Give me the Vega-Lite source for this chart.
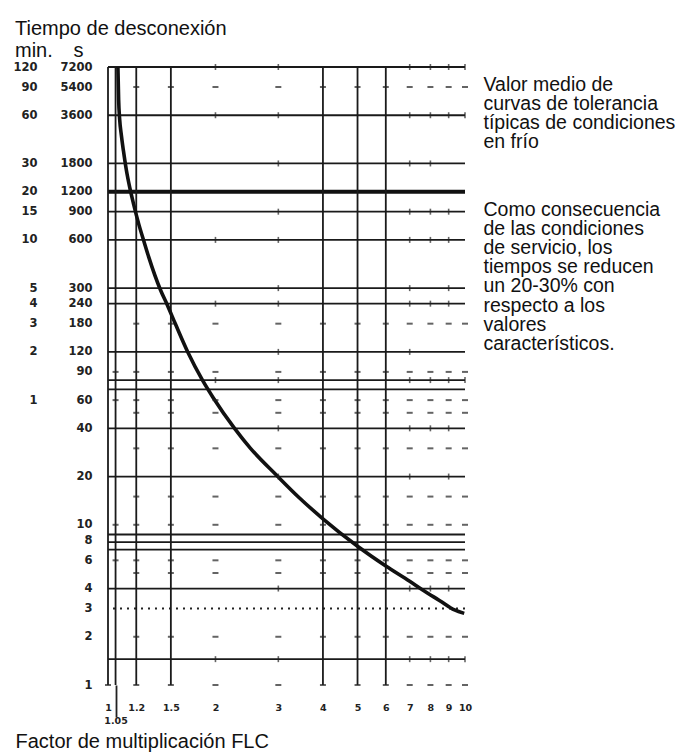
{
  "$schema": "https://vega.github.io/schema/vega-lite/v6.json",
  "width": 357,
  "height": 618,
  "autosize": {"type": "none"},
  "padding": {"left": 108, "top": 67, "right": 216, "bottom": 71},
  "background": "white",
  "config": {
    "view": {"stroke": null},
    "font": "Liberation Sans",
    "axis": {"labelFont": "DejaVu Sans", "labelFontWeight": "bold", "labelColor": "#222", "grid": false, "domain": false, "ticks": false, "tickSize": 0, "labelOverlap": false, "labelFlush": false, "labelBound": false}
  },
  "title": {
    "text": ["Tiempo de desconexión", "min.\u00a0\u00a0\u00a0\u2009s"],
    "anchor": "start",
    "frame": "group",
    "dx": -93,
    "dy": 27,
    "fontSize": 20,
    "fontWeight": "normal",
    "font": "Liberation Sans",
    "color": "#111",
    "lineHeight": 22,
    "baseline": "alphabetic",
    "offset": 10
  },
  "datasets": {
    "hlines": [
      {"y": 7200}, {"y": 3600}, {"y": 1800}, {"y": 900}, {"y": 600}, {"y": 300}, {"y": 240}, {"y": 120},
      {"y": 80}, {"y": 70}, {"y": 40}, {"y": 20}, {"y": 8.7}, {"y": 7.8}, {"y": 7}, {"y": 4}, {"y": 1.45}
    ],
    "hthick": [{"y": 1200}],
    "hdotted": [{"y": 3}],
    "vlines": [{"x": 1}, {"x": 1.05}, {"x": 1.2}, {"x": 1.5}, {"x": 4}, {"x": 5}, {"x": 6}],
    "curve": [
      {"x": 1.066, "y": 7200}, {"x": 1.071, "y": 4500}, {"x": 1.078, "y": 3400}, {"x": 1.090, "y": 2700},
      {"x": 1.105, "y": 2150}, {"x": 1.125, "y": 1650}, {"x": 1.150, "y": 1280}, {"x": 1.180, "y": 1000},
      {"x": 1.220, "y": 750}, {"x": 1.260, "y": 590}, {"x": 1.300, "y": 470}, {"x": 1.403, "y": 292},
      {"x": 1.468, "y": 234}, {"x": 1.545, "y": 179}, {"x": 1.675, "y": 119}, {"x": 1.839, "y": 80},
      {"x": 1.975, "y": 61.7}, {"x": 2.262, "y": 40}, {"x": 2.507, "y": 30}, {"x": 2.984, "y": 20.1},
      {"x": 3.439, "y": 14.7}, {"x": 4.0, "y": 10.9}, {"x": 5.0, "y": 7.35}, {"x": 6.0, "y": 5.53},
      {"x": 7.0, "y": 4.44}, {"x": 7.652, "y": 3.89}, {"x": 8.5, "y": 3.36}, {"x": 9.346, "y": 2.94},
      {"x": 9.95, "y": 2.8}
    ],
    "hticks": [
      {"y": 5400, "xs": [1.2, 1.5, 2, 3, 4, 5, 6, 7, 8, 9, 10]},
      {"y": 180, "xs": [1.2, 1.5, 2, 3, 4, 5, 6, 7, 8, 9, 10]},
      {"y": 90, "xs": [1.05, 1.2, 1.5, 2, 3, 4, 5, 6, 7, 8, 9, 10]},
      {"y": 60, "xs": [1.05, 1.2, 1.5, 2, 3, 4, 5, 6, 7, 8, 9, 10]},
      {"y": 50, "xs": [1.2, 1.5, 2, 3, 4, 5, 6, 7, 8, 9, 10]},
      {"y": 30, "xs": [1.2, 1.5, 2, 3, 4, 5, 6, 7, 8, 9, 10]},
      {"y": 15, "xs": [1.2, 1.5, 2, 3, 4, 5, 6, 7, 8, 9, 10]},
      {"y": 10, "xs": [1.05, 1.2, 1.5, 2, 3, 4, 5, 6, 7, 8, 9, 10]},
      {"y": 6, "xs": [1.05, 1.2, 1.5, 2, 3, 4, 5, 6, 7, 8, 9, 10]},
      {"y": 5, "xs": [1.2, 1.5, 2, 3, 4, 5, 6, 7, 8, 9, 10]},
      {"y": 2, "xs": [1.2, 1.5, 2, 3, 4, 5, 6, 7, 8, 9, 10]},
      {"y": 1, "xs": [1, 1.2, 1.5, 2, 3, 4, 5, 6, 7, 8, 9, 10]}
    ],
    "vticks": [
      {"y": 7200, "xs": [2, 3, 7, 8, 9, 10]},
      {"y": 3600, "xs": [2, 3, 7, 8, 9, 10]},
      {"y": 1800, "xs": [3, 7, 8]},
      {"y": 900, "xs": [3, 7, 8, 9]},
      {"y": 600, "xs": [2, 3, 7, 8, 9]},
      {"y": 300, "xs": [3, 7, 9]},
      {"y": 240, "xs": [2, 3, 7, 8, 9]},
      {"y": 120, "xs": [3, 7]},
      {"y": 80, "xs": [2, 3, 7, 8, 9, 10]},
      {"y": 40, "xs": [3, 7, 8, 9]},
      {"y": 20, "xs": [3, 7, 9]},
      {"y": 4, "xs": [3, 7, 8, 9]},
      {"y": 1.45, "xs": [2, 3, 7, 8, 9, 10]}
    ]
  },
  "layer": [
    {
      "data": {"name": "hlines"},
      "mark": {"type": "rule", "stroke": "#1a1a1a", "strokeWidth": 1.8},
      "encoding": {
        "y": {
          "field": "y", "type": "quantitative",
          "scale": {"type": "log", "domain": [1, 7200], "nice": false, "zero": false},
          "axis": {
            "orient": "left",
            "values": [7200, 5400, 3600, 1800, 1200, 900, 600, 300, 240, 180, 120, 90, 60, 40, 20, 10, 8, 6, 4, 3, 2, 1],
            "format": "d", "labelFontSize": 11.5, "labelPadding": 16, "labelAlign": "right", "labelBaseline": "middle", "title": null
          }
        }
      }
    },
    {
      "data": {"name": "hthick"},
      "mark": {"type": "rule", "stroke": "#111", "strokeWidth": 4},
      "encoding": {
        "y": {
          "field": "y", "type": "quantitative",
          "scale": {"type": "log", "domain": [1, 7200], "nice": false, "zero": false},
          "axis": {
            "orient": "left",
            "values": [7200, 5400, 3600, 1800, 1200, 900, 600, 300, 240, 180, 120, 60],
            "labelExpr": "datum.value / 60", "labelFontSize": 11.5, "labelPadding": 71, "labelAlign": "right", "labelBaseline": "middle", "title": null
          }
        }
      }
    },
    {
      "data": {"name": "hdotted"},
      "mark": {"type": "rule", "stroke": "#222", "strokeWidth": 2, "strokeDash": [2, 5]},
      "encoding": {
        "y": {"field": "y", "type": "quantitative", "scale": {"type": "log", "domain": [1, 7200], "nice": false, "zero": false}, "axis": null}
      }
    },
    {
      "data": {"name": "vlines"},
      "mark": {"type": "rule", "stroke": "#1a1a1a", "strokeWidth": 1.8},
      "encoding": {
        "x": {
          "field": "x", "type": "quantitative",
          "scale": {"type": "log", "domain": [1, 10], "nice": false, "zero": false},
          "axis": {
            "orient": "bottom",
            "values": [1, 1.2, 1.5, 2, 3, 4, 5, 6, 7, 8, 9, 10],
            "format": "~g", "labelFontSize": 9.5, "labelPadding": 17, "labelBaseline": "top",
            "title": "Factor de multiplicación FLC",
            "titleFont": "Liberation Sans", "titleFontSize": 20, "titleFontWeight": "normal", "titleColor": "#111",
            "titleAnchor": "start", "titleAlign": "left", "titleBaseline": "alphabetic", "titleX": -93, "titleY": 62
          }
        }
      }
    },
    {
      "data": {"name": "curve"},
      "mark": {"type": "line", "stroke": "#111", "strokeWidth": 3.6, "interpolate": "monotone"},
      "encoding": {
        "x": {"field": "x", "type": "quantitative", "scale": {"type": "log", "domain": [1, 10], "nice": false, "zero": false}, "axis": null},
        "y": {
          "field": "y", "type": "quantitative",
          "scale": {"type": "log", "domain": [1, 7200], "nice": false, "zero": false},
          "axis": {
            "orient": "right", "labels": false,
            "title": ["Valor medio de", "curvas de tolerancia", "típicas de condiciones", "en frío"],
            "titleFont": "Liberation Sans", "titleFontSize": 19.5, "titleFontWeight": "normal", "titleColor": "#111",
            "titleAngle": 0, "titleAlign": "left", "titleBaseline": "alphabetic", "titleLineHeight": 19.2,
            "titleX": 18, "titleY": 23
          }
        }
      }
    },
    {
      "data": {"name": "hticks"},
      "transform": [{"flatten": ["xs"], "as": ["x"]}],
      "mark": {"type": "tick", "orient": "horizontal", "color": "#222", "size": 6, "thickness": 2},
      "encoding": {
        "x": {
          "field": "x", "type": "quantitative",
          "scale": {"type": "log", "domain": [1, 10], "nice": false, "zero": false},
          "axis": {
            "orient": "bottom", "values": [1.05], "format": ".2f", "labelFontSize": 9.5,
            "ticks": true, "tickSize": 32, "tickWidth": 1.8, "tickColor": "#222", "labelPadding": -2, "labelDx": -4, "title": null
          }
        },
        "y": {
          "field": "y", "type": "quantitative",
          "scale": {"type": "log", "domain": [1, 7200], "nice": false, "zero": false},
          "axis": {
            "orient": "right", "labels": false,
            "title": ["Como consecuencia", "de las condiciones", "de servicio, los", "tiempos se reducen", "un 20-30% con", "respecto a los", "valores", "característicos."],
            "titleFont": "Liberation Sans", "titleFontSize": 19.5, "titleFontWeight": "normal", "titleColor": "#111",
            "titleAngle": 0, "titleAlign": "left", "titleBaseline": "alphabetic", "titleLineHeight": 19.2,
            "titleX": 18, "titleY": 148
          }
        }
      }
    },
    {
      "data": {"name": "vticks"},
      "transform": [{"flatten": ["xs"], "as": ["x"]}],
      "mark": {"type": "tick", "orient": "vertical", "color": "#222", "size": 6, "thickness": 1.6},
      "encoding": {
        "x": {"field": "x", "type": "quantitative", "scale": {"type": "log", "domain": [1, 10], "nice": false, "zero": false}, "axis": null},
        "y": {"field": "y", "type": "quantitative", "scale": {"type": "log", "domain": [1, 7200], "nice": false, "zero": false}, "axis": null}
      }
    }
  ],
  "resolve": {"axis": {"x": "independent", "y": "independent"}}
}
